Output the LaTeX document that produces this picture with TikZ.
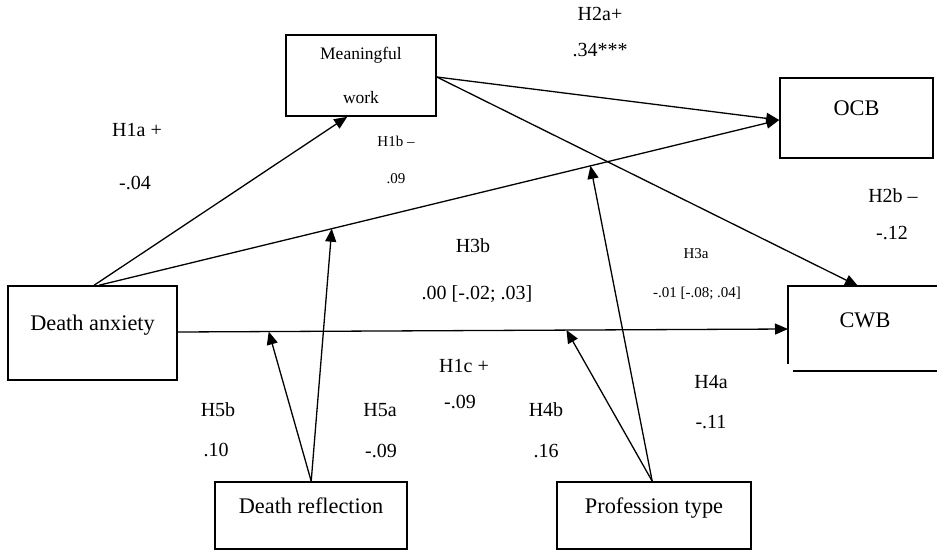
\documentclass[tikz,border=0pt]{standalone}
\usepackage{fontspec}
\setmainfont{Liberation Serif}
\usetikzlibrary{arrows.meta,calc}
\begin{document}
\begin{tikzpicture}[x=1pt,y=-1pt,
 box/.style={draw,line width=1.6pt,inner sep=0pt,text depth=20pt,font=\fontsize{22.3}{26}\selectfont},
 mwbox/.style={draw,line width=1.6pt,inner sep=0pt,align=center,font=\fontsize{17.5}{44}\selectfont},
 boxline/.style={line width=1.6pt},
 conn/.style={line width=1.3pt,-{Triangle[length=13pt,width=11pt]}},
 lbl/.style={inner sep=0pt,font=\fontsize{20}{23}\selectfont},
 slbl/.style={inner sep=0pt,font=\fontsize{15}{18}\selectfont},
 btxt/.style={inner sep=0pt,font=\fontsize{22.3}{26}\selectfont}]
\useasboundingbox (0,0) rectangle (937,551);
\fill[white] (0,0) rectangle (937,551);

% boxes
\node[mwbox,minimum width=150,minimum height=81] (mw) at (361,75.5) {Meaningful\\work};
\node[box,minimum width=153,minimum height=80] (ocb) at (856.5,118) {OCB};
\node[box,minimum width=169,minimum height=94] (da) at (92.5,333) {Death anxiety};
\node[box,minimum width=192,minimum height=67] (dr) at (311,515.5) {Death reflection};
\node[box,minimum width=194,minimum height=67] (pt) at (654,515.5) {Profession type};
\node[btxt] (cwb) at (865,320) {CWB};

% open CWB frame
\coordinate (cwbNW) at (788,286);
\coordinate (cwbNE) at (937,286);
\coordinate (cwbLB) at (788,364);
\coordinate (cwbBL) at (793,371);
\coordinate (cwbBR) at (937,371);
\coordinate (cwbtop) at (858,286);
\coordinate (cwbleft) at (788,329);
\draw[boxline] (cwbNE) -- (cwbNW) -- (cwbLB);
\draw[boxline] (cwbBL) -- (cwbBR);

% anchor points
\coordinate (daT1) at ($(da.north west)+(87,0)$);
\coordinate (daT2) at ($(da.north west)+(92,0)$);
\coordinate (daE) at ($(da.east)+(0,-1)$);
\coordinate (mwB) at ($(mw.south west)+(62,0)$);
\coordinate (mwE) at ($(mw.east)+(0,1.5)$);
\coordinate (ocbW) at ($(ocb.west)+(0,2)$);
\coordinate (drT) at ($(dr.north west)+(97,0)$);
\coordinate (ptT) at ($(pt.north west)+(96,0)$);
\coordinate (p1) at ($(daE)!0.149!(cwbleft)$);
\coordinate (p2) at ($(daE)!0.637!(cwbleft)$);
\coordinate (q1) at ($(daT2)!0.342!(ocbW)$);
\coordinate (q2) at ($(daT2)!0.7225!(ocbW)$);

% connectors
\draw[conn] (daT1) -- (mwB);
\draw[conn] (daT2) -- (ocbW);
\draw[conn] (mwE) -- (ocbW);
\draw[conn] (mwE) -- (cwbtop);
\draw[conn] (daE) -- (cwbleft);
\draw[conn] (drT) -- (p1);
\draw[conn] (drT) -- (q1);
\draw[conn] (ptT) -- (p2);
\draw[conn] (ptT) -- (q2);

% labels
\node[lbl] (h2a) at (600,14) {H2a+};
\node[lbl] (h2av) at (600,50) {.34***};
\node[lbl] (h1a) at (137,130) {H1a +};
\node[lbl] (h1av) at (135,183) {-.04};
\node[slbl] (h1b) at (396,141) {H1b –};
\node[slbl] (h1bv) at (396,179) {.09};
\node[lbl] (h2b) at (893,196) {H2b –};
\node[lbl] (h2bv) at (892,233) {-.12};
\node[lbl] (h3b) at (473,246) {H3b};
\node[lbl] (h3bv) at (477,294) {.00 [-.02; .03]};
\node[slbl] (h3a) at (696,254) {H3a};
\node[slbl] (h3av) at (697,293) {-.01 [-.08; .04]};
\node[lbl] (h1c) at (464,366) {H1c +};
\node[lbl] (h1cv) at (460,402) {-.09};
\node[lbl] (h5b) at (218,410) {H5b};
\node[lbl] (h5bv) at (216,450) {.10};
\node[lbl] (h5a) at (380,410) {H5a};
\node[lbl] (h5av) at (381,451) {-.09};
\node[lbl] (h4b) at (546,410) {H4b};
\node[lbl] (h4bv) at (546,451) {.16};
\node[lbl] (h4a) at (711,382) {H4a};
\node[lbl] (h4av) at (711,422) {-.11};
\end{tikzpicture}
\end{document}
